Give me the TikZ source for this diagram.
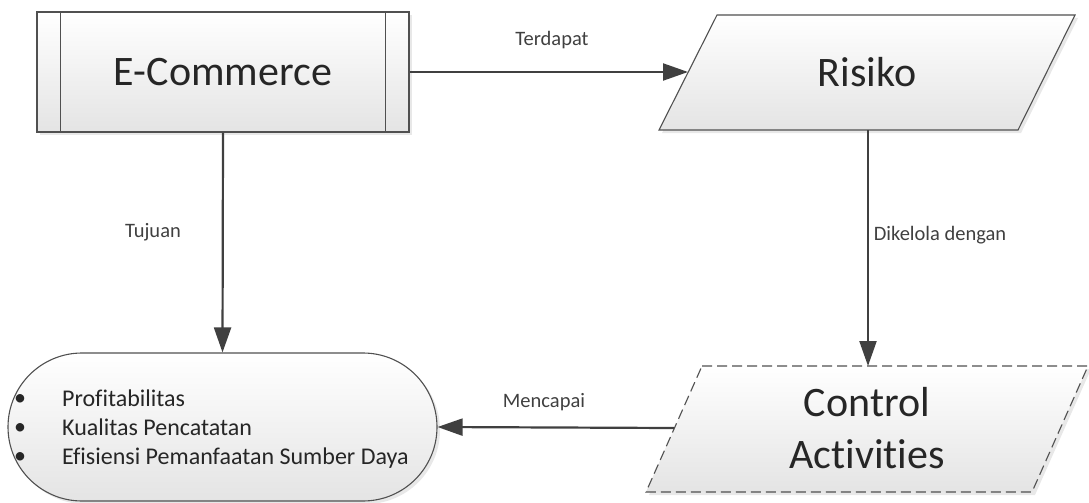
\documentclass[tikz,border=0pt]{standalone}
\usepackage{fontspec}
\setmainfont{Carlito}[Ligatures={NoCommon,NoRare}]
\usetikzlibrary{arrows.meta,shadows}
\definecolor{linec}{HTML}{505050}
\definecolor{arrc}{HTML}{404040}
\definecolor{txtc}{HTML}{262626}
\definecolor{fillb}{HTML}{E4E4E4}
\tikzset{
  shapebox/.style={draw=linec, line width=1.1pt, top color=white, bottom color=fillb,
     drop shadow={opacity=0.18, shadow xshift=3pt, shadow yshift=-3pt}},
  bigtext/.style={font=\fontsize{42}{52}\selectfont, text=txtc, align=center},
  lbl/.style={font=\fontsize{20.5}{24}\selectfont, text=arrc, inner sep=0pt},
  listtext/.style={font=\fontsize{24}{29}\selectfont, text=txtc, align=left, inner sep=0pt},
  arr/.style={draw=arrc, line width=2.2pt, -{Triangle[length=25pt,width=17pt]}},
}
\begin{document}
\begin{tikzpicture}[x=1pt,y=-1pt]
\useasboundingbox (0,0) rectangle (1089,503);

% E-Commerce (predefined process)
\node[shapebox, rectangle, minimum width=372pt, minimum height=120pt, inner sep=0pt] (ec) at (223,72) {};
\draw[linec, line width=1.1pt] ([xshift=24pt]ec.north west) -- ([xshift=24pt]ec.south west);
\draw[linec, line width=1.1pt] ([xshift=-24pt]ec.north east) -- ([xshift=-24pt]ec.south east);
\node[bigtext] (ectext) at (223,72) {E-Commerce};

% Risiko (parallelogram)
\path[shapebox] (717,15) -- (1075,15) -- (1018,130) -- (659,130) -- cycle;
\node[bigtext] (risk) at (867,72) {Risiko};
\coordinate (riskW) at (688,72);
\coordinate (riskS) at (868,130);

% Control Activities (dashed parallelogram)
\path[shapebox, dash pattern=on 10pt off 5pt] (702,366) -- (1088,366) -- (1032,492) -- (646,492) -- cycle;
\node[bigtext] (ca) at (867,428) {Control\\Activities};
\coordinate (caN) at (868,366);
\coordinate (caW) at (674,428);

% Goal (terminator)
\node[shapebox, rectangle, rounded corners=74pt, minimum width=429pt, minimum height=148pt, inner sep=0pt] (goal) at (222.5,427) {};
\node[listtext, align=center] (bul) at (20,429) {•\\•\\•};
\node[listtext, anchor=west] (list) at (62,429) {Profitabilitas\\Kualitas Pencatatan\\Efisiensi Pemanfaatan Sumber Daya};

% connectors
\draw[arr] (ec.east) -- (riskW);
\draw[arr] (ec.south) -- (goal.north);
\draw[arr] (riskS) -- (caN);
\draw[arr] (caW) -- (goal.east);

% labels
\node[lbl] (l1) at (552,40) {Terdapat};
\node[lbl] (l2) at (153,232) {Tujuan};
\node[lbl] (l3) at (940,235) {Dikelola dengan};
\node[lbl] (l4) at (544,402) {Mencapai};
\end{tikzpicture}
\end{document}
